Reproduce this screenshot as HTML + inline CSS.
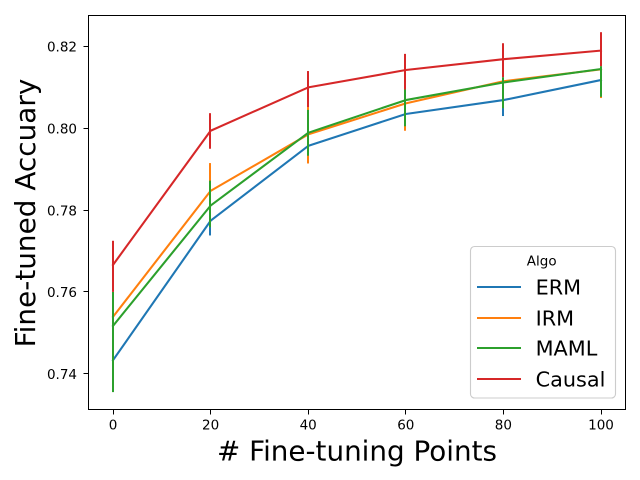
<!DOCTYPE html>
<html>
<head>
<meta charset="utf-8">
<title>Fine-tuned Accuracy</title>
<style>
html,body{margin:0;padding:0;background:#fff;width:640px;height:480px;overflow:hidden}
svg{display:block;font-family:"DejaVu Sans","Liberation Sans",sans-serif}
</style>
</head>
<body>
<svg id="chart" xmlns="http://www.w3.org/2000/svg" width="640" height="480" viewBox="0 0 640 480">
  <rect x="0" y="0" width="640" height="480" fill="#ffffff"/>
  <rect x="88" y="15" width="537" height="394.5" fill="#ffffff"/>
  <g id="series"></g>
  <g id="axes"></g>
  <rect x="88.5" y="15.5" width="537" height="394" fill="none" stroke="#000" stroke-width="1.11" shape-rendering="crispEdges"/>
  <text x="357" y="460.5" font-size="27.8" text-anchor="middle" fill="#000"># Fine-tuning Points</text>
  <text transform="translate(35 213) rotate(-90)" font-size="27.9" text-anchor="middle" fill="#000">Fine-tuned Accuary</text>
  <g id="legend">
    <rect x="470.5" y="246.5" width="145" height="151.5" rx="4" ry="4" fill="#fff" fill-opacity="0.8" stroke="#cccccc" stroke-width="1.11"/>
    <text x="541.7" y="265.5" font-size="13.5" text-anchor="middle" fill="#000">Algo</text>
  </g>
</svg>
<script>
const xValues = [0, 20, 40, 60, 80, 100];
const seriesNames = ["ERM", "IRM", "MAML", "Causal"];
const seriesColors = ["#1f77b4", "#ff7f0e", "#2ca02c", "#d62728"];

const ermMean = [0.7433, 0.7774, 0.7957, 0.8035, 0.8069, 0.8118];
const ermLow = [0.7360, 0.7738, 0.7925, 0.7995, 0.8030, 0.8080];
const ermHigh = [0.7510, 0.7812, 0.7990, 0.8070, 0.8106, 0.8150];

const irmMean = [0.7539, 0.7847, 0.7985, 0.8061, 0.8115, 0.8144];
const irmLow = [0.7470, 0.7775, 0.7914, 0.7994, 0.8060, 0.8074];
const irmHigh = [0.7600, 0.7915, 0.8052, 0.8122, 0.8120, 0.8150];

const mamlMean = [0.7517, 0.7811, 0.7989, 0.8069, 0.8112, 0.8145];
const mamlLow = [0.7355, 0.7758, 0.7933, 0.8005, 0.8049, 0.8077];
const mamlHigh = [0.7600, 0.7872, 0.8045, 0.8095, 0.8125, 0.8152];

const causalMean = [0.7666, 0.7994, 0.8100, 0.81425, 0.8169, 0.8190];
const causalLow = [0.7600, 0.7950, 0.8052, 0.8095, 0.8125, 0.8152];
const causalHigh = [0.7725, 0.8037, 0.8140, 0.8182, 0.8208, 0.8235];

const xTickValues = [0, 20, 40, 60, 80, 100];
const xTickLabels = ["0", "20", "40", "60", "80", "100"];
const yTickValues = [0.74, 0.76, 0.78, 0.80, 0.82];
const yTickLabels = ["0.74", "0.76", "0.78", "0.80", "0.82"];

const allMeans = [ermMean, irmMean, mamlMean, causalMean];
const allLows = [ermLow, irmLow, mamlLow, causalLow];
const allHighs = [ermHigh, irmHigh, mamlHigh, causalHigh];

const SVG_NS = "http://www.w3.org/2000/svg";
function xScale(v) { return 113 + v * 4.88; }
function yScale(v) { return 46.5 + (0.82 - v) * 4090; }
function make(tag, parent, attrs) {
  const el = document.createElementNS(SVG_NS, tag);
  Object.keys(attrs).forEach(function (k) { el.setAttribute(k, attrs[k]); });
  parent.appendChild(el);
  return el;
}

const seriesGroup = document.getElementById("series");
seriesNames.forEach(function (name, s) {
  const pts = xValues.map(function (x, i) {
    return xScale(x).toFixed(2) + "," + yScale(allMeans[s][i]).toFixed(2);
  }).join(" ");
  const line = make("polyline", seriesGroup, { points: pts, fill: "none", stroke: seriesColors[s], "stroke-width": 2.08, "stroke-linejoin": "round", "stroke-linecap": "square" });
  
  
  xValues.forEach(function (x, i) {
    const bx = Math.floor(xScale(x));
    const bar = make("line", seriesGroup, { x1: bx, x2: bx, y1: yScale(allLows[s][i]), y2: yScale(allHighs[s][i]), stroke: seriesColors[s], "stroke-width": 2 });
    
    
  });
});

const axesGroup = document.getElementById("axes");
xTickValues.forEach(function (v, i) {
  const tx = Math.floor(xScale(v)) + 0.5;
  const tick = make("line", axesGroup, { x1: tx, x2: tx, y1: 409.5, y2: 414.5, stroke: "#000", "stroke-width": 1 });
  
  
  const label = make("text", axesGroup, { x: xScale(v), y: 429.5, "font-size": 13.5, "text-anchor": "middle", fill: "#000" });
  
  
  label.textContent = xTickLabels[i];
});
yTickValues.forEach(function (v, i) {
  const ty = Math.floor(yScale(v)) + 0.5;
  const tick = make("line", axesGroup, { x1: 83.5, x2: 88.5, y1: ty, y2: ty, stroke: "#000", "stroke-width": 1 });
  
  
  const label = make("text", axesGroup, { x: 77, y: yScale(v) + 5.2, "font-size": 13.5, "text-anchor": "end", fill: "#000" });
  
  
  label.textContent = yTickLabels[i];
});

const legendGroup = document.getElementById("legend");
const legendRowY = [287, 318, 348, 379];
seriesNames.forEach(function (name, s) {
  const swatch = make("line", legendGroup, { x1: 477, x2: 521, y1: legendRowY[s], y2: legendRowY[s], stroke: seriesColors[s], "stroke-width": 2.08 });
  
  
  const text = make("text", legendGroup, { x: 535.6, y: legendRowY[s] + 7.4, "font-size": 20.8, fill: "#000" });
  
  
  text.textContent = name;
});
</script>
</body>
</html>
